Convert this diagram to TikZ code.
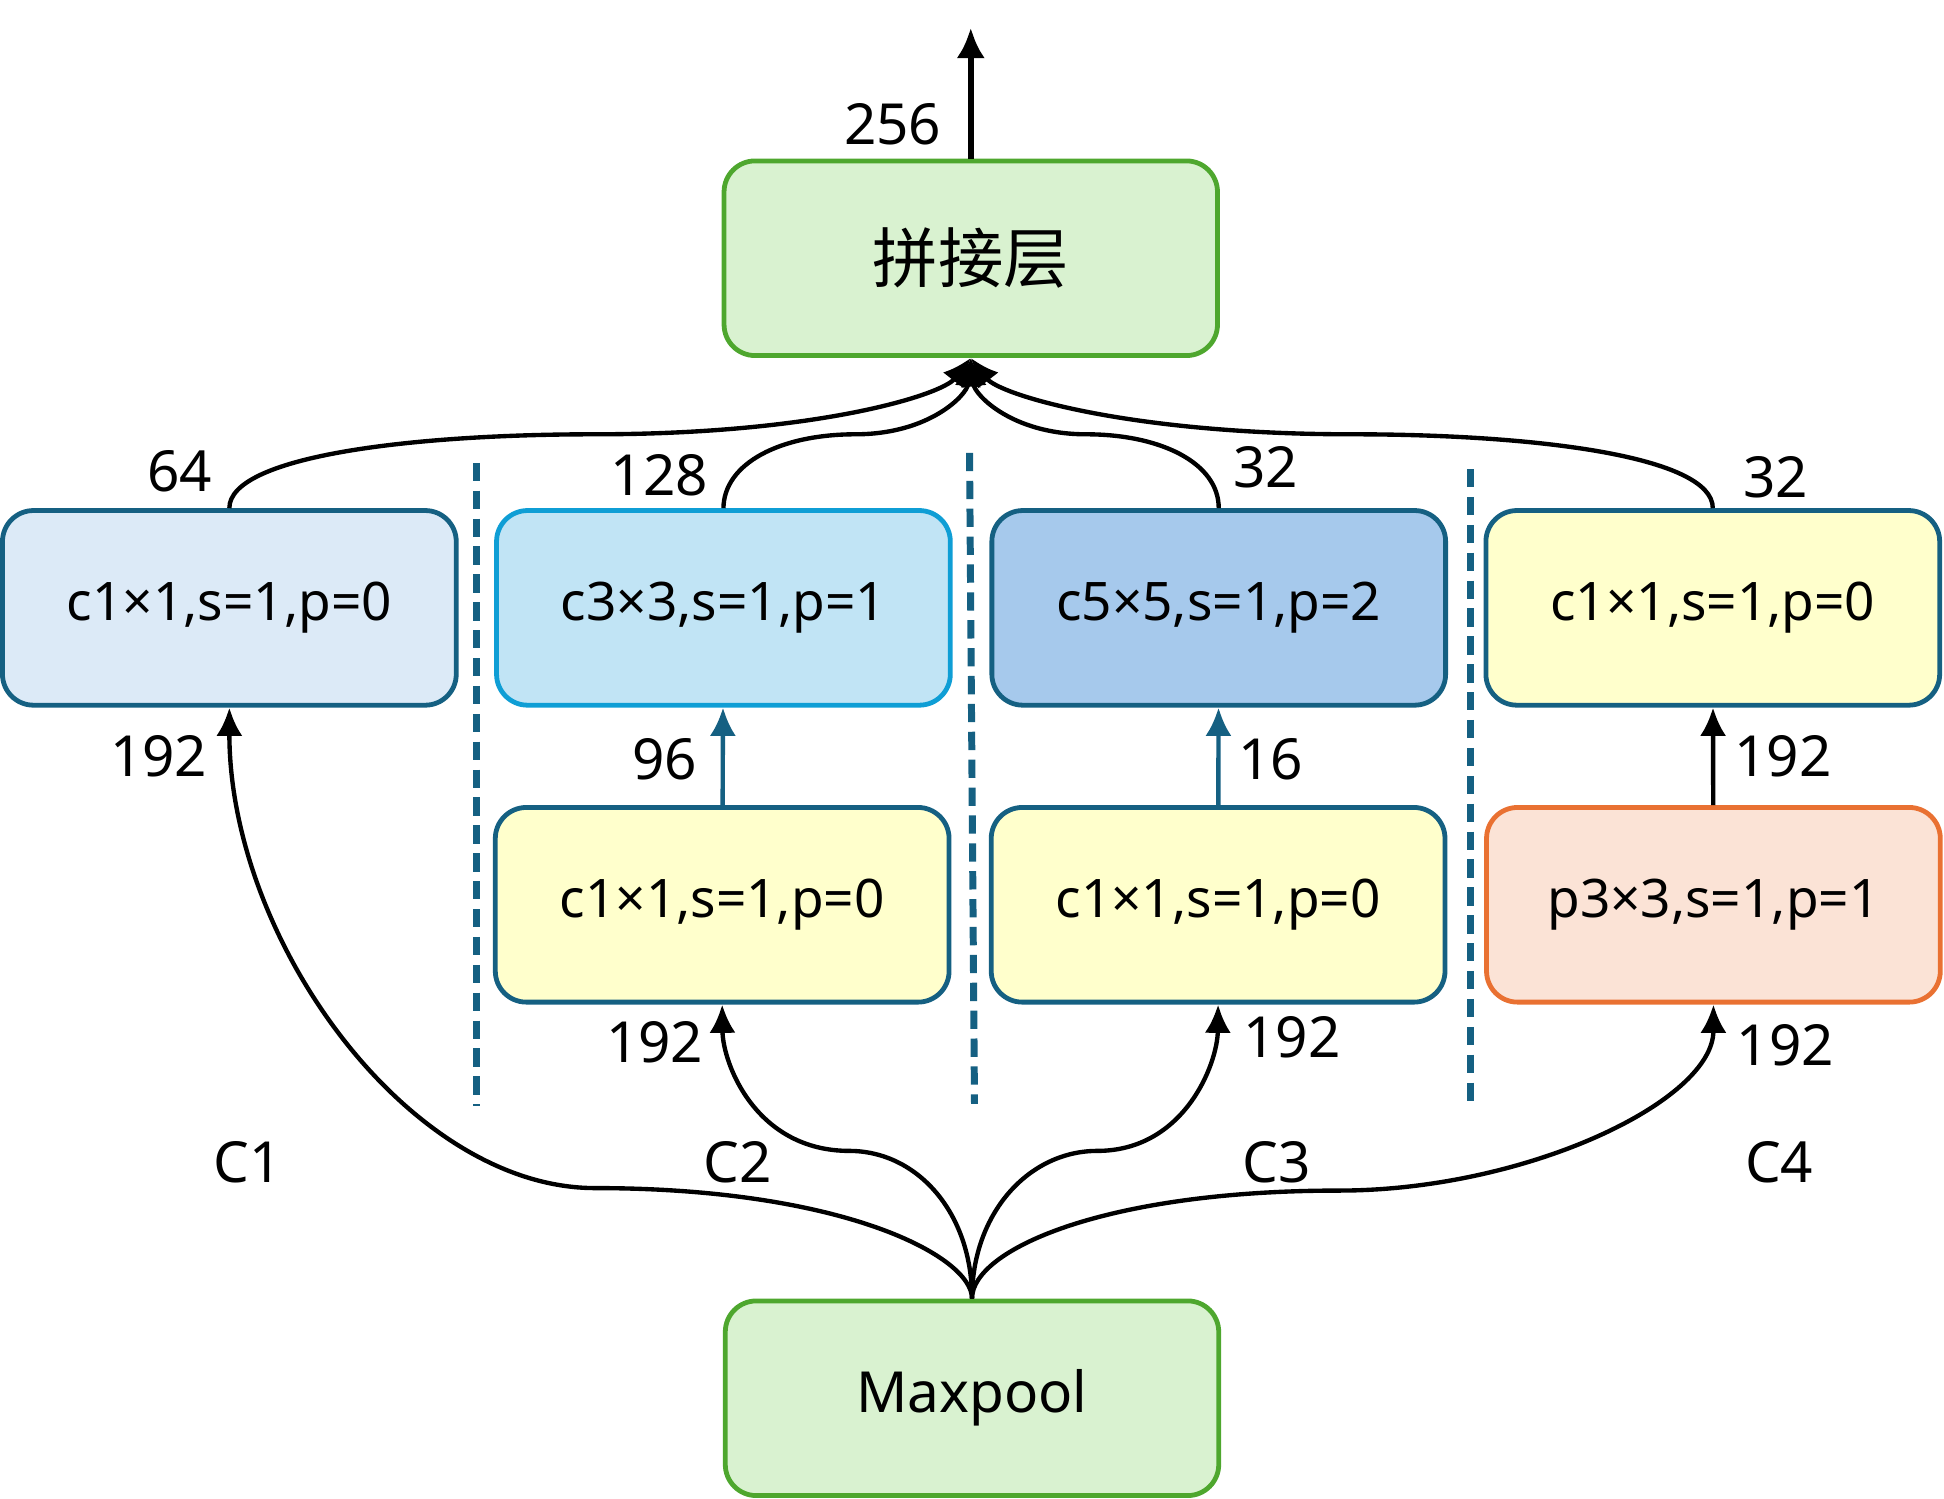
\documentclass[tikz,border=0pt]{standalone}
\usepackage{fontspec}
\setmainfont{Noto Sans}
\newfontfamily\cjk{Noto Sans CJK SC}
\usetikzlibrary{arrows.meta}
\definecolor{tealline}{HTML}{156082}
\definecolor{skyline}{HTML}{0F9ED5}
\definecolor{orangeline}{HTML}{E97132}
\definecolor{greenline}{HTML}{4EA72E}
\definecolor{greenfill}{HTML}{D9F2D0}
\definecolor{palefill}{HTML}{DCEAF7}
\definecolor{skyfill}{HTML}{C1E4F5}
\definecolor{bluefill}{HTML}{A6C9EC}
\definecolor{yellowfill}{HTML}{FFFFCC}
\definecolor{peachfill}{HTML}{FBE3D6}

\begin{document}
\begin{tikzpicture}[
  layer/.style={draw=tealline, line width=1.1pt, rounded corners=0.25cm, minimum width=3.66cm, minimum height=1.57cm, font=\fontsize{12.2}{14}\selectfont},
  poolbox/.style={layer, draw=greenline, fill=greenfill, minimum width=3.98cm},
  num/.style={font=\fontsize{13}{15}\selectfont},
  feed/.style={-{Latex[length=6.5pt,width=6pt]}, line width=1pt},
  sep/.style={draw=tealline, line width=1.6pt, dash pattern=on 4.2pt off 2.2pt}
]
  \useasboundingbox (0,0) rectangle (15.68,12.083);
  \node[poolbox, font=\fontsize{15}{17}\selectfont\cjk] (concat) at (7.83,10.00) {拼接层};
  \node[poolbox, font=\fontsize{13}{15}\selectfont] (maxpool) at (7.84,0.805) {Maxpool};
  \node[layer, fill=palefill] (brA) at (1.85,7.18) {c1×1,s=1,p=0};
  \node[layer, draw=skyline, fill=skyfill] (brB) at (5.835,7.18) {c3×3,s=1,p=1};
  \node[layer, fill=bluefill] (brC) at (9.83,7.18) {c5×5,s=1,p=2};
  \node[layer, fill=yellowfill] (brD) at (13.815,7.18) {c1×1,s=1,p=0};
  \node[layer, fill=yellowfill] (redB) at (5.825,4.785) {c1×1,s=1,p=0};
  \node[layer, fill=yellowfill] (redC) at (9.825,4.785) {c1×1,s=1,p=0};
  \node[layer, draw=orangeline, fill=peachfill] (poolD) at (13.82,4.785) {p3×3,s=1,p=1};
  \coordinate (out) at (7.83,11.86);

  \draw[sep] (3.84,8.35) -- (3.84,3.16);
  \draw[sep] (7.82,8.43) -- (7.86,3.18);
  \draw[sep] (11.86,8.30) -- (11.86,3.15);

  \draw[-{Latex[length=7pt,width=6.5pt]}, line width=1.5pt] (concat.north) -- (out);
  \draw[feed] (maxpool.north) .. controls (7.84,1.95) and (6.8,2.5) .. (4.8,2.5)
    .. controls (3.3,2.5) and (1.85,4.5) .. (brA.south);
  \draw[feed] (maxpool.north) .. controls (7.84,2.3) and (7.4,2.8) .. (6.85,2.8)
    .. controls (6.1,2.8) and (5.83,3.5) .. (redB.south);
  \draw[feed] (maxpool.north) .. controls (7.84,2.3) and (8.3,2.8) .. (8.85,2.8)
    .. controls (9.55,2.8) and (9.82,3.5) .. (redC.south);
  \draw[feed] (maxpool.north) .. controls (7.84,2.0) and (8.9,2.48) .. (10.8,2.48)
    .. controls (12.3,2.48) and (13.82,3.2) .. (poolD.south);
  \draw[feed, tealline] (redB) -- (brB);
  \draw[feed, tealline] (redC) -- (brC);
  \draw[feed] (poolD) -- (brD);
  \draw[feed] (brA.north) .. controls (1.85,8.4) and (3.3,8.58) .. (4.8,8.58)
    .. controls (6.6,8.58) and (7.6,8.9) .. (concat.south);
  \draw[feed] (brB.north) .. controls (5.84,8.35) and (6.3,8.58) .. (6.9,8.58)
    .. controls (7.5,8.58) and (7.8,8.9) .. (concat.south);
  \draw[feed] (brC.north) .. controls (9.83,8.35) and (9.36,8.58) .. (8.76,8.58)
    .. controls (8.16,8.58) and (7.86,8.9) .. (concat.south);
  \draw[feed] (brD.north) .. controls (13.815,8.4) and (12.4,8.58) .. (10.9,8.58)
    .. controls (9.1,8.58) and (8.06,8.9) .. (concat.south);

  \node[num] (n256) at (7.20,11.08) {256};
  \node[num] (nA) at (1.45,8.28) {64};
  \node[num] (nB) at (5.32,8.25) {128};
  \node[num] (nC) at (10.21,8.31) {32};
  \node[num] (nD) at (14.32,8.23) {32};
  \node[num] (inA) at (1.28,5.98) {192};
  \node[num] (inB) at (5.36,5.96) {96};
  \node[num] (inC) at (10.25,5.96) {16};
  \node[num] (inD) at (14.38,5.98) {192};
  \node[num] (mB) at (5.28,3.68) {192};
  \node[num] (mC) at (10.42,3.72) {192};
  \node[num] (mD) at (14.40,3.65) {192};
  \node[num] (cA) at (2.00,2.71) {C1};
  \node[num] (cB) at (5.95,2.71) {C2};
  \node[num] (cC) at (10.30,2.71) {C3};
  \node[num] (cD) at (14.35,2.71) {C4};
\end{tikzpicture}
\end{document}
